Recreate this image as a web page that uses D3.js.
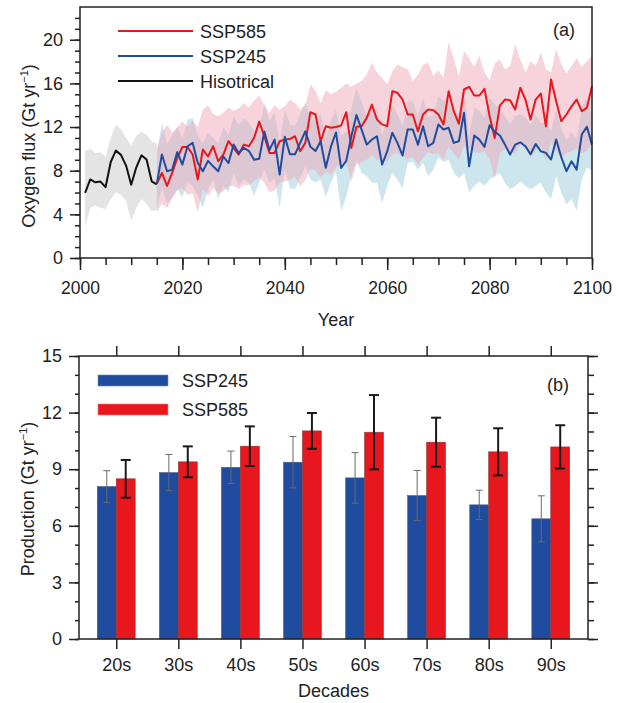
<!DOCTYPE html>
<html><head><meta charset="utf-8">
<script src="https://cdn.jsdelivr.net/npm/d3@7"></script>
<style>
body{margin:0;background:#fff}
svg{display:block}
text{font-family:Arial,"Liberation Sans",Helvetica,sans-serif;fill:#222}
</style>
</head><body>
<svg id="c" width="627" height="703"></svg>
<script>
// ---------- Panel (a) data ----------
const histYears = d3.range(2001, 2016);
const histMean  = [5.96, 7.2, 6.94, 7.0, 6.5, 8.8, 9.84, 9.45, 8.47, 6.72, 8.31, 9.41, 9.02, 7.03, 6.75];
const histUpper = [9.8, 10.0, 9.6, 9.7, 9.3, 11.0, 12.2, 11.8, 11.0, 10.3, 11.2, 11.6, 11.3, 10.7, 10.5];
const histLower = [2.8, 4.6, 4.8, 4.6, 4.5, 5.4, 6.0, 5.8, 5.2, 3.4, 4.6, 5.4, 5.0, 4.3, 4.4];

const projYears = d3.range(2015, 2101);
const ssp585 = [6.79, 7.8, 6.6, 7.8, 9.17, 10.17, 10.17, 9.48, 7.2, 9.94,
  9.3, 10.24, 8.87, 9.48, 10.7, 10.09, 9.48, 10.39, 10.24, 11.0,
  12.5, 11.16, 9.63, 9.63, 10.7, 10.85, 10.9, 11.16, 9.78, 10.55,
  13.36, 13.15, 10.7, 12.07, 11.93, 12.0, 12.14, 13.36, 10.09, 12.02,
  12.08, 12.84, 14.06, 12.69, 12.24, 12.08, 15.29, 15.14, 14.52, 13.15,
  13.15, 11.62, 13.15, 13.6, 13.55, 13.15, 12.24, 15.29, 13.45, 12.3,
  15.44, 15.69, 14.89, 14.89, 15.5, 13.0, 11.0, 13.97, 14.52, 14.46,
  13.6, 15.6, 14.52, 12.69, 14.52, 15.07, 12.07, 16.36, 14.37, 12.54,
  13.15, 13.9, 14.52, 13.45, 13.76, 15.75];
const ssp585Upper = [10.0, 11.5, 12.2, 11.5, 12.0, 12.5, 12.0, 12.6, 12.0, 13.6,
  14.0, 13.2, 13.0, 13.3, 13.8, 13.5, 13.7, 14.2, 13.8, 14.4,
  14.9, 14.0, 13.3, 14.0, 13.6, 13.9, 14.5, 14.2, 13.6, 14.0,
  15.9, 15.3, 14.2, 15.4, 15.0, 15.2, 15.6, 16.0, 15.7, 16.0,
  16.2, 16.8, 17.9, 17.0, 16.5, 15.9, 17.1, 17.7, 17.5, 17.3,
  16.2, 16.8, 17.7, 17.9, 16.7, 17.2, 16.5, 19.8, 18.3, 16.6,
  19.0, 18.3, 17.5, 18.5, 17.0, 16.3, 17.8, 18.2, 17.3, 17.6,
  19.6, 18.2, 17.0, 18.0, 17.6, 18.8, 17.3, 17.0, 19.1, 17.8,
  16.9, 17.6, 18.3, 17.5, 18.0, 18.5];
const ssp585Lower = [4.2, 5.0, 4.6, 5.4, 6.2, 6.4, 5.8, 5.9, 4.2, 6.3,
  5.7, 6.4, 5.9, 6.1, 6.6, 6.6, 6.3, 6.7, 6.7, 7.0,
  7.4, 6.9, 6.0, 6.2, 6.9, 7.0, 7.2, 7.4, 6.6, 7.1,
  8.2, 8.0, 7.4, 7.9, 7.6, 8.3, 8.6, 8.9, 7.0, 8.6,
  8.8, 9.0, 9.4, 9.0, 9.1, 8.8, 9.5, 9.6, 9.4, 9.0,
  9.3, 8.5, 9.2, 9.7, 9.5, 9.6, 9.0, 10.2, 9.6, 9.0,
  10.3, 10.0, 9.7, 9.6, 9.8, 9.0, 7.3, 9.6, 10.0, 9.8,
  9.5, 10.4, 10.0, 9.2, 9.8, 10.2, 8.9, 10.6, 9.8, 9.2,
  9.6, 9.8, 10.0, 9.6, 9.8, 10.6];
const ssp245 = [6.79, 9.48, 7.95, 8.1, 9.7, 8.56, 10.24, 10.55, 8.7, 7.95,
  8.9, 8.4, 7.95, 9.3, 8.7, 10.4, 9.6, 10.1, 9.8, 9.0,
  9.1, 11.6, 9.9, 10.85, 7.65, 11.1, 9.5, 9.5, 10.55, 11.6,
  10.2, 9.8, 10.7, 8.26, 10.2, 11.5, 8.25, 8.9, 11.16, 13.1,
  11.77, 10.39, 10.85, 11.16, 8.56, 9.78, 11.47, 10.55, 9.39, 11.77,
  11.77, 10.39, 12.07, 10.24, 10.55, 12.23, 11.77, 11.93, 10.55, 10.7,
  13.3, 8.4, 11.22, 10.85, 10.18, 12.17, 11.56, 11.22, 10.39, 9.48,
  10.39, 10.6, 10.24, 9.51, 10.45, 9.78, 9.63, 9.02, 10.85, 9.24,
  7.95, 8.86, 8.1, 11.31, 12.02, 10.39];
const ssp245Upper = [9.5, 12.4, 10.5, 11.2, 12.0, 11.0, 12.7, 12.8, 11.2, 10.5,
  11.5, 11.0, 10.5, 12.0, 11.3, 13.0, 12.2, 12.8, 12.4, 11.6,
  11.8, 14.2, 12.5, 13.4, 10.5, 13.6, 12.2, 12.1, 13.2, 14.2,
  12.9, 12.5, 13.3, 11.0, 12.6, 13.6, 11.2, 11.6, 13.7, 15.6,
  14.3, 13.0, 13.5, 13.8, 11.3, 12.5, 14.1, 13.2, 12.1, 14.3,
  14.4, 13.0, 14.7, 12.9, 13.1, 14.8, 14.4, 14.5, 13.2, 13.3,
  15.8, 11.1, 13.8, 13.5, 12.8, 14.7, 14.1, 13.8, 13.0, 12.2,
  13.0, 13.2, 12.9, 12.2, 13.1, 12.4, 12.3, 11.7, 13.5, 11.9,
  10.8, 11.6, 10.9, 13.9, 14.6, 13.0];
const ssp245Lower = [4.5, 6.5, 5.0, 5.6, 6.3, 5.6, 6.9, 6.6, 5.7, 4.6,
  6.3, 7.2, 5.4, 6.6, 6.0, 7.8, 6.6, 7.2, 6.9, 5.7,
  6.9, 8.1, 6.9, 7.3, 4.6, 8.1, 6.4, 6.3, 7.3, 8.4,
  7.2, 6.9, 7.2, 5.6, 6.9, 7.9, 4.3, 5.6, 7.5, 9.0,
  7.8, 7.5, 6.9, 6.9, 5.0, 6.6, 7.8, 7.2, 6.4, 8.7,
  8.8, 8.1, 8.7, 7.5, 8.1, 9.2, 8.8, 9.0, 7.8, 7.3,
  7.8, 6.0, 6.6, 7.0, 6.6, 7.2, 7.5, 7.8, 6.9, 6.3,
  6.6, 7.0, 6.6, 6.3, 6.6, 6.9, 6.0, 5.4, 7.5, 6.0,
  4.9, 5.4, 4.3, 7.2, 8.3, 8.0];

const yearTicks = [2000, 2020, 2040, 2060, 2080, 2100];
const fluxTicks = [0, 4, 8, 12, 16, 20];

// ---------- Panel (b) data ----------
const decades = ['20s', '30s', '40s', '50s', '60s', '70s', '80s', '90s'];
const prod245 = [8.08, 8.82, 9.1, 9.37, 8.54, 7.6, 7.11, 6.37];
const err245  = [0.84, 0.96, 0.86, 1.36, 1.34, 1.33, 0.78, 1.22];
const prod585 = [8.49, 9.39, 10.22, 11.03, 10.96, 10.43, 9.92, 10.18];
const err585  = [1.0, 0.82, 1.05, 0.95, 1.97, 1.3, 1.25, 1.15];
const prodTicks = [0, 3, 6, 9, 12, 15];

// ---------- colours ----------
const RED = '#e8161d', BLUE = '#1f4c9e', BLACK = '#111';
const FS = 18;

const svg = d3.select('#c');

function yrLabel(sel, x, y, prefix) {
  const t = sel.append('text').attr('transform', `translate(${x},${y}) rotate(-90)`)
    .attr('text-anchor', 'middle').attr('font-size', FS);
  t.append('tspan').text(prefix + ' (Gt yr');
  t.append('tspan').attr('font-size', 11).attr('dy', -7).text('−1');
  t.append('tspan').attr('dy', 7).text(')');
}

// ================= Panel (a) =================
const A = {l: 80, r: 592, t: 7, b: 258};
const xA = d3.scaleLinear().domain([2000, 2100]).range([A.l, A.r]);
const yA = d3.scaleLinear().domain([0, 23]).range([A.b, A.t]);
const gA = svg.append('g');

const hist = histYears.map((y, i) => ({y, m: histMean[i], u: histUpper[i], l: histLower[i]}));
const p585 = projYears.map((y, i) => ({y, m: ssp585[i], u: ssp585Upper[i], l: ssp585Lower[i]}));
const p245 = projYears.map((y, i) => ({y, m: ssp245[i], u: ssp245Upper[i], l: ssp245Lower[i]}));

const area = d3.area().x(d => xA(d.y)).y0(d => yA(d.l)).y1(d => yA(d.u));
const line = d3.line().x(d => xA(d.y)).y(d => yA(d.m));

gA.append('path').datum(hist).attr('d', area).attr('fill', '#e4e4e4');
gA.append('path').datum(p245).attr('d', area).attr('fill', '#cde6ee');
gA.append('path').datum(p585).attr('d', area).attr('fill', '#efa5b6').attr('fill-opacity', 0.48);

gA.append('path').datum(hist).attr('d', line).attr('fill', 'none').attr('stroke', BLACK).attr('stroke-width', 2).attr('stroke-linejoin', 'round');
gA.append('path').datum(p585).attr('d', line).attr('fill', 'none').attr('stroke', RED).attr('stroke-width', 2).attr('stroke-linejoin', 'round');
gA.append('path').datum(p245).attr('d', line).attr('fill', 'none').attr('stroke', BLUE).attr('stroke-width', 2).attr('stroke-linejoin', 'round');

// frame
gA.append('rect').attr('x', A.l).attr('y', A.t).attr('width', A.r - A.l).attr('height', A.b - A.t)
  .attr('fill', 'none').attr('stroke', '#222').attr('stroke-width', 1.5);

// axes
function styleAxis(g, fs) {
  g.select('.domain').remove();
  g.selectAll('.tick line').attr('stroke', '#222').attr('stroke-width', 1.5);
  g.selectAll('.tick text').attr('font-size', fs || FS).attr('fill', '#222')
    .attr('font-family', 'Arial, "Liberation Sans", sans-serif');
}
gA.append('g').attr('transform', `translate(0,${A.b})`)
  .call(d3.axisBottom(xA).tickValues(d3.range(2000, 2101, 5)).tickSize(7).tickFormat(''))
  .call(styleAxis);
gA.append('g').attr('transform', `translate(0,${A.b})`)
  .call(d3.axisBottom(xA).tickValues(yearTicks).tickSize(12).tickPadding(12).tickFormat(d3.format('d')))
  .call(g => styleAxis(g, 17.5));
gA.append('g').attr('transform', `translate(${A.l},0)`)
  .call(d3.axisLeft(yA).tickValues(d3.range(0, 23, 1)).tickSize(5).tickFormat(''))
  .call(styleAxis);
gA.append('g').attr('transform', `translate(${A.l},0)`)
  .call(d3.axisLeft(yA).tickValues(fluxTicks).tickSize(10).tickPadding(7))
  .call(styleAxis);

gA.append('text').attr('x', (A.l + A.r) / 2).attr('y', 326).attr('text-anchor', 'middle')
  .attr('font-size', FS).text('Year');
yrLabel(gA, 35, 146, 'Oxygen flux');
gA.append('text').attr('x', 553).attr('y', 36).attr('font-size', FS).text('(a)');

// legend (a)
const legA = [{n: 'SSP585', c: RED}, {n: 'SSP245', c: BLUE}, {n: 'Hisotrical', c: BLACK}];
legA.forEach((d, i) => {
  const y = 31 + i * 25;
  gA.append('line').attr('x1', 118).attr('x2', 193).attr('y1', y).attr('y2', y)
    .attr('stroke', d.c).attr('stroke-width', 2);
  gA.append('text').attr('x', 200).attr('y', y + 6.5).attr('font-size', FS).text(d.n);
});

// ================= Panel (b) =================
const B = {l: 79, r: 588, t: 356, b: 639};
const xB = d3.scaleLinear().domain([0.4, 8.6]).range([B.l, B.r]);
const yB = d3.scaleLinear().domain([0, 15]).range([B.b, B.t]);
const gB = svg.append('g');
const barW = xB(1.305) - xB(1);

decades.forEach((d, i) => {
  const cx = xB(i + 1);
  gB.append('rect').attr('x', cx - barW).attr('y', yB(prod245[i])).attr('width', barW)
    .attr('height', yB(0) - yB(prod245[i])).attr('fill', BLUE).attr('stroke', '#4a5a80').attr('stroke-width', 0.6);
  gB.append('rect').attr('x', cx).attr('y', yB(prod585[i])).attr('width', barW)
    .attr('height', yB(0) - yB(prod585[i])).attr('fill', RED).attr('stroke', '#8a3a3a').attr('stroke-width', 0.6);
  // error bars
  const bx = cx - barW / 2;
  const e1 = gB.append('g').attr('stroke', '#6a6a6a').attr('stroke-width', 1);
  e1.append('line').attr('x1', bx).attr('x2', bx).attr('y1', yB(prod245[i] + err245[i])).attr('y2', yB(prod245[i] - err245[i]));
  [prod245[i] + err245[i], prod245[i] - err245[i]].forEach(v =>
    e1.append('line').attr('x1', bx - 3.5).attr('x2', bx + 3.5).attr('y1', yB(v)).attr('y2', yB(v)));
  const rx = cx + barW / 2;
  const e2 = gB.append('g').attr('stroke', '#1a1a1a').attr('stroke-width', 2);
  e2.append('line').attr('x1', rx).attr('x2', rx).attr('y1', yB(prod585[i] + err585[i])).attr('y2', yB(prod585[i] - err585[i]));
  [prod585[i] + err585[i], prod585[i] - err585[i]].forEach(v =>
    e2.append('line').attr('x1', rx - 5).attr('x2', rx + 5).attr('y1', yB(v)).attr('y2', yB(v)));
});

gB.append('rect').attr('x', B.l).attr('y', B.t).attr('width', B.r - B.l).attr('height', B.b - B.t)
  .attr('fill', 'none').attr('stroke', '#222').attr('stroke-width', 1.5);

const idx = decades.map((d, i) => i + 1);
gB.append('g').attr('transform', `translate(0,${B.b})`)
  .call(d3.axisBottom(xB).tickValues(idx).tickSize(10).tickPadding(9).tickFormat(v => decades[v - 1]))
  .call(styleAxis);
gB.append('g').attr('transform', `translate(0,${B.t})`)
  .call(d3.axisTop(xB).tickValues(idx).tickSize(10).tickFormat(''))
  .call(styleAxis);
gB.append('g').attr('transform', `translate(${B.l},0)`)
  .call(d3.axisLeft(yB).tickValues(d3.range(0, 16, 1)).tickSize(4).tickFormat(''))
  .call(styleAxis);
gB.append('g').attr('transform', `translate(${B.l},0)`)
  .call(d3.axisLeft(yB).tickValues(prodTicks).tickSize(10).tickPadding(7))
  .call(styleAxis);
gB.append('g').attr('transform', `translate(${B.r},0)`)
  .call(d3.axisRight(yB).tickValues(d3.range(0, 16, 1)).tickSize(6).tickFormat(''))
  .call(styleAxis);
gB.append('g').attr('transform', `translate(${B.r},0)`)
  .call(d3.axisRight(yB).tickValues(prodTicks).tickSize(10).tickFormat(''))
  .call(styleAxis);

gB.append('text').attr('x', (B.l + B.r) / 2).attr('y', 697).attr('text-anchor', 'middle')
  .attr('font-size', FS).text('Decades');
yrLabel(gB, 34, 499, 'Production');
gB.append('text').attr('x', 547).attr('y', 391).attr('font-size', FS).text('(b)');

const legB = [{n: 'SSP245', c: BLUE, s: '#6f8cc4'}, {n: 'SSP585', c: RED, s: '#f08080'}];
legB.forEach((d, i) => {
  const y = 375 + i * 29;
  gB.append('rect').attr('x', 98).attr('y', y).attr('width', 70).attr('height', 11)
    .attr('fill', d.c).attr('stroke', d.s).attr('stroke-width', 0.6);
  gB.append('text').attr('x', 182).attr('y', y + 12).attr('font-size', FS).text(d.n);
});
</script>
</body></html>
